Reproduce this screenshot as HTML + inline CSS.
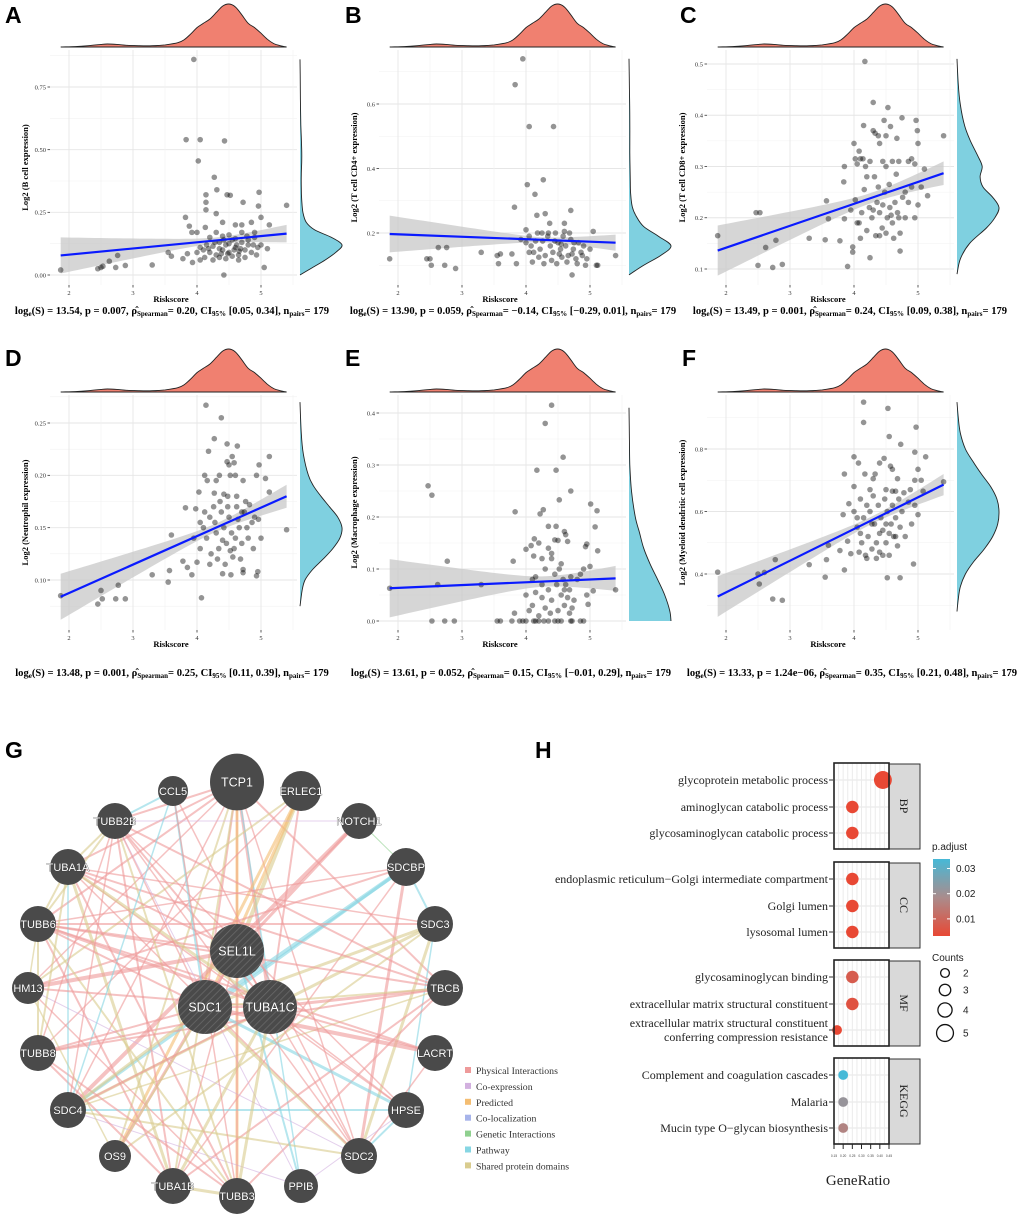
<!DOCTYPE html>
<html><head><meta charset="utf-8">
<style>
html,body{margin:0;padding:0;background:#fff;}
#wrap{position:relative;width:1020px;height:1219px;overflow:hidden;font-family:"Liberation Sans",sans-serif;}
.stat{position:absolute;font-family:"Liberation Serif",serif;font-weight:bold;font-size:10.6px;white-space:nowrap;transform:translateX(-50%);color:#000;}
.stat sub{font-size:7px;vertical-align:-2px;}
.letter{position:absolute;font-family:"Liberation Sans",sans-serif;font-weight:bold;font-size:23px;}
</style></head>
<body>
<div id="wrap">
<svg id="svg" width="1020" height="1219" xmlns="http://www.w3.org/2000/svg">
<defs>
<pattern id="hatch" patternUnits="userSpaceOnUse" width="5" height="5" patternTransform="rotate(45)">
<rect width="5" height="5" fill="#4a4a4a"/><line x1="0" y1="0" x2="0" y2="5" stroke="#6a6a6a" stroke-width="1.5"/>
</pattern>
</defs>
</svg>
<div class="letter" style="left:5px;top:2px">A</div>
<div class="letter" style="left:345px;top:2px">B</div>
<div class="letter" style="left:680px;top:2px">C</div>
<div class="letter" style="left:5px;top:345px">D</div>
<div class="letter" style="left:345px;top:345px">E</div>
<div class="letter" style="left:682px;top:345px">F</div>
<div class="letter" style="left:5px;top:737px">G</div>
<div class="letter" style="left:535px;top:737px">H</div>

<div class="stat" style="left:172px;top:306px">log<sub>e</sub>(S) = 13.54, p = 0.007, ρ̂<sub>Spearman</sub>= 0.20, CI<sub>95%</sub> [0.05, 0.34], n<sub>pairs</sub>= 179</div>
<div class="stat" style="left:513px;top:306px">log<sub>e</sub>(S) = 13.90, p = 0.059, ρ̂<sub>Spearman</sub>= −0.14, CI<sub>95%</sub> [−0.29, 0.01], n<sub>pairs</sub>= 179</div>
<div class="stat" style="left:850px;top:306px">log<sub>e</sub>(S) = 13.49, p = 0.001, ρ̂<sub>Spearman</sub>= 0.24, CI<sub>95%</sub> [0.09, 0.38], n<sub>pairs</sub>= 179</div>
<div class="stat" style="left:172px;top:668px">log<sub>e</sub>(S) = 13.48, p = 0.001, ρ̂<sub>Spearman</sub>= 0.25, CI<sub>95%</sub> [0.11, 0.39], n<sub>pairs</sub>= 179</div>
<div class="stat" style="left:511px;top:668px">log<sub>e</sub>(S) = 13.61, p = 0.052, ρ̂<sub>Spearman</sub>= 0.15, CI<sub>95%</sub> [−0.01, 0.29], n<sub>pairs</sub>= 179</div>
<div class="stat" style="left:852px;top:668px">log<sub>e</sub>(S) = 13.33, p = 1.24e−06, ρ̂<sub>Spearman</sub>= 0.35, CI<sub>95%</sub> [0.21, 0.48], n<sub>pairs</sub>= 179</div>
</div>
<script>
// ---------- shared riskscore density ----------
const densX=[1.87,2.1,2.3,2.5,2.6,2.75,2.9,3.1,3.3,3.5,3.7,3.8,3.9,4.0,4.1,4.2,4.3,4.4,4.5,4.6,4.7,4.8,4.9,5.0,5.1,5.2,5.3,5.4];
const densVal=[0,0.01,0.03,0.06,0.07,0.06,0.04,0.03,0.03,0.05,0.1,0.17,0.3,0.45,0.55,0.65,0.8,0.95,1.0,0.93,0.75,0.55,0.45,0.32,0.18,0.08,0.03,0];
// ---------- panel A ----------
const ptsA=[[3.95,0.86],[3.83,0.54],[4.05,0.54],[4.43,0.535],[4.02,0.455],[4.27,0.39],[4.31,0.34],[4.47,0.32],[4.52,0.318],[4.97,0.33],[4.72,0.29],[4.14,0.32],[4.14,0.29],[4.14,0.26],[4.3,0.245],[3.82,0.23],[4.96,0.275],[5.4,0.278],[5.0,0.23],[4.4,0.21],[1.87,0.02],[2.45,0.025],[2.5,0.03],[2.53,0.035],[2.63,0.055],[2.73,0.03],[2.76,0.078],[2.88,0.038],[3.3,0.04],[3.55,0.09],[3.6,0.075],[3.78,0.065],[3.85,0.085],[3.93,0.05],[3.88,0.195],[3.92,0.17],[4.0,0.17],[4.13,0.19],[4.05,0.06],[4.42,0.0],[4.6,0.2],[4.7,0.2],[4.85,0.21],[5.13,0.2],[4.9,0.17],[5.05,0.03],[5.1,0.105],[4.93,0.08],[4.1,0.1],[4.15,0.12],[4.2,0.09],[4.25,0.115],[4.3,0.08],[4.35,0.13],[4.4,0.1],[4.45,0.12],[4.5,0.09],[4.55,0.14],[4.6,0.11],[4.65,0.08],[4.7,0.13],[4.75,0.1],[4.8,0.12],[4.85,0.09],[4.9,0.15],[4.95,0.11],[4.2,0.15],[4.3,0.17],[4.4,0.155],[4.5,0.16],[4.6,0.145],[4.7,0.17],[4.8,0.14],[4.0,0.09],[4.05,0.11],[4.12,0.07],[4.25,0.06],[4.35,0.07],[4.45,0.065],[4.55,0.075],[4.65,0.06],[4.75,0.07],[4.35,0.105],[4.5,0.125],[4.62,0.12],[4.28,0.13],[4.42,0.14],[4.58,0.1],[4.68,0.105],[4.78,0.155],[4.88,0.12],[5.0,0.12],[4.18,0.105],[4.48,0.085],[4.38,0.085],[4.66,0.095]];
const fitA=[0.078,0.165]; const ciA=[0.072,0.012,0.035];
const rdYA=[0,0.03,0.06,0.09,0.12,0.15,0.18,0.21,0.25,0.3,0.35,0.4,0.45,0.5,0.55,0.6,0.7,0.8,0.86];
const rdVA=[0,0.3,0.6,0.85,1.0,0.75,0.35,0.15,0.07,0.04,0.03,0.03,0.04,0.04,0.03,0.02,0.01,0.005,0];
const tickA=[0,0.25,0.5,0.75]; const tickLabA=['0.00','0.25','0.50','0.75'];
// ---------- panel B ----------
const ptsB=[[3.95,0.74],[3.83,0.66],[4.05,0.53],[4.43,0.53],[4.27,0.365],[4.02,0.35],[4.14,0.32],[3.82,0.28],[4.7,0.27],[4.17,0.255],[4.3,0.26],[4.37,0.23],[4.6,0.23],[4.75,0.17],[5.05,0.205],[1.87,0.12],[2.45,0.12],[2.5,0.12],[2.52,0.1],[2.63,0.155],[2.73,0.1],[2.76,0.155],[2.9,0.09],[3.3,0.14],[3.55,0.13],[3.57,0.105],[3.6,0.135],[3.78,0.135],[3.85,0.105],[4.0,0.21],[4.05,0.19],[4.72,0.07],[5.4,0.13],[5.1,0.1],[5.12,0.1],[4.93,0.1],[5.0,0.15],[3.92,0.18],[4.0,0.17],[4.08,0.16],[4.12,0.14],[4.18,0.2],[4.22,0.15],[4.26,0.175],[4.3,0.13],[4.34,0.19],[4.38,0.16],[4.42,0.14],[4.46,0.2],[4.5,0.17],[4.54,0.15],[4.58,0.19],[4.62,0.16],[4.66,0.13],[4.7,0.18],[4.74,0.15],[4.78,0.12],[4.82,0.17],[4.86,0.14],[4.9,0.16],[4.95,0.12],[4.1,0.11],[4.2,0.125],[4.28,0.105],[4.4,0.115],[4.48,0.105],[4.56,0.125],[4.64,0.11],[4.72,0.135],[4.8,0.105],[4.15,0.175],[4.35,0.2],[4.45,0.175],[4.6,0.205],[4.68,0.2],[4.25,0.2],[4.55,0.165],[4.05,0.14],[4.88,0.13],[4.52,0.135]];
const fitB=[0.197,0.170]; const ciB=[0.057,0.008,0.025];
const rdYB=[0.07,0.1,0.13,0.16,0.19,0.22,0.25,0.28,0.32,0.36,0.45,0.55,0.65,0.74];
const rdVB=[0,0.35,0.75,1.0,0.7,0.35,0.18,0.08,0.04,0.03,0.02,0.02,0.01,0];
const tickB=[0.2,0.4,0.6]; const tickLabB=['0.2','0.4','0.6'];
// ---------- panel C ----------
const ptsC=[[4.17,0.505],[4.3,0.425],[4.53,0.415],[4.75,0.395],[4.97,0.39],[4.47,0.39],[4.15,0.38],[4.57,0.378],[4.3,0.37],[4.33,0.365],[4.38,0.36],[4.5,0.36],[5.4,0.36],[4.99,0.37],[4.67,0.355],[4.4,0.345],[4.0,0.345],[5.0,0.345],[4.08,0.33],[4.02,0.315],[4.1,0.315],[4.14,0.315],[4.25,0.31],[4.45,0.31],[4.5,0.3],[4.6,0.31],[4.7,0.31],[4.85,0.31],[4.9,0.315],[3.85,0.3],[3.84,0.27],[4.05,0.305],[4.18,0.3],[4.95,0.305],[5.1,0.295],[1.87,0.165],[2.47,0.21],[2.53,0.21],[2.5,0.107],[2.62,0.142],[2.73,0.103],[2.78,0.156],[2.88,0.109],[3.3,0.16],[3.55,0.157],[3.6,0.198],[3.57,0.233],[3.78,0.155],[3.85,0.198],[3.9,0.105],[3.98,0.143],[3.98,0.133],[4.25,0.122],[4.72,0.135],[5.15,0.243],[4.02,0.235],[4.08,0.19],[4.12,0.21],[4.16,0.255],[4.2,0.175],[4.24,0.22],[4.28,0.2],[4.32,0.28],[4.36,0.23],[4.4,0.21],[4.44,0.18],[4.48,0.25],[4.52,0.2],[4.56,0.22],[4.6,0.19],[4.64,0.23],[4.68,0.21],[4.72,0.17],[4.76,0.24],[4.8,0.2],[4.85,0.23],[4.9,0.26],[4.95,0.2],[5.0,0.225],[4.2,0.28],[4.38,0.26],[4.55,0.265],[4.66,0.285],[4.1,0.16],[4.34,0.165],[4.5,0.17],[4.62,0.16],[4.45,0.225],[4.58,0.205],[4.3,0.215],[3.95,0.215],[4.05,0.19],[4.4,0.165],[4.7,0.2],[5.05,0.26],[4.8,0.25]];
const fitC=[0.136,0.287]; const ciC=[0.049,0.01,0.023];
const rdYC=[0.09,0.12,0.15,0.18,0.2,0.22,0.24,0.26,0.28,0.3,0.32,0.35,0.38,0.42,0.46,0.51];
const rdVC=[0,0.08,0.3,0.7,0.9,1.0,0.85,0.62,0.55,0.6,0.5,0.32,0.18,0.08,0.03,0];
const tickC=[0.1,0.2,0.3,0.4,0.5]; const tickLabC=['0.1','0.2','0.3','0.4','0.5'];
// ---------- panel D ----------
const ptsD=[[4.14,0.267],[4.38,0.255],[4.27,0.235],[4.47,0.23],[4.63,0.228],[4.18,0.223],[4.55,0.218],[5.13,0.218],[4.47,0.213],[4.5,0.21],[4.58,0.212],[4.97,0.21],[4.12,0.2],[4.35,0.2],[4.52,0.2],[4.6,0.2],[4.93,0.2],[4.16,0.195],[4.3,0.195],[4.72,0.195],[5.07,0.197],[4.03,0.184],[4.27,0.183],[4.42,0.182],[4.48,0.18],[4.62,0.18],[5.13,0.184],[1.87,0.085],[2.45,0.077],[2.5,0.09],[2.52,0.082],[2.73,0.082],[2.77,0.095],[2.88,0.082],[3.3,0.105],[3.55,0.098],[3.57,0.109],[3.6,0.143],[3.78,0.118],[3.82,0.169],[3.85,0.112],[3.92,0.105],[3.95,0.14],[3.98,0.168],[4.0,0.117],[4.07,0.083],[4.05,0.155],[4.4,0.106],[4.53,0.105],[4.72,0.107],[4.72,0.11],[4.93,0.104],[4.95,0.108],[5.4,0.148],[4.88,0.13],[5.0,0.14],[4.05,0.13],[4.1,0.15],[4.15,0.14],[4.2,0.16],[4.22,0.125],[4.26,0.17],[4.3,0.145],[4.34,0.13],[4.38,0.165],[4.42,0.15],[4.46,0.135],[4.5,0.16],[4.54,0.145],[4.58,0.13],[4.62,0.17],[4.66,0.15],[4.7,0.135],[4.74,0.165],[4.78,0.15],[4.82,0.172],[4.86,0.155],[4.9,0.16],[4.96,0.158],[4.2,0.115],[4.32,0.12],[4.44,0.115],[4.56,0.122],[4.68,0.12],[4.28,0.155],[4.36,0.175],[4.48,0.17],[4.6,0.14],[4.7,0.165],[4.12,0.165],[4.4,0.138],[4.52,0.128],[4.64,0.158],[4.8,0.14],[4.76,0.175]];
const fitD=[0.084,0.180]; const ciD=[0.022,0.004,0.011];
const rdYD=[0.075,0.09,0.1,0.11,0.12,0.13,0.14,0.15,0.16,0.17,0.18,0.19,0.2,0.22,0.24,0.27];
const rdVD=[0,0.05,0.12,0.3,0.55,0.78,0.95,1.0,0.9,0.7,0.5,0.32,0.2,0.08,0.03,0];
const tickD=[0.10,0.15,0.20,0.25]; const tickLabD=['0.10','0.15','0.20','0.25'];
// ---------- panel E ----------
const ptsE=[[4.4,0.415],[4.3,0.38],[4.58,0.315],[4.17,0.29],[4.47,0.29],[4.7,0.25],[4.52,0.233],[2.47,0.26],[2.53,0.242],[5.01,0.225],[4.27,0.214],[5.11,0.212],[3.83,0.21],[4.22,0.206],[4.35,0.182],[4.47,0.182],[5.08,0.181],[4.6,0.172],[4.62,0.166],[4.5,0.155],[4.45,0.156],[4.2,0.15],[4.13,0.158],[4.08,0.145],[4.0,0.138],[4.65,0.153],[4.95,0.148],[5.12,0.135],[4.93,0.143],[2.77,0.115],[3.8,0.115],[1.87,0.063],[2.62,0.07],[3.3,0.07],[5.4,0.06],[5.05,0.058],[2.53,0],[2.73,0],[2.88,0],[3.55,0],[3.6,0],[3.78,0],[3.9,0],[3.95,0],[4.0,0],[4.12,0],[4.15,0],[4.2,0],[4.28,0],[4.35,0],[4.45,0],[4.5,0],[4.55,0],[4.7,0],[4.72,0],[4.85,0],[4.9,0],[3.82,0.015],[4.0,0.05],[4.05,0.02],[4.1,0.03],[4.1,0.08],[4.15,0.055],[4.2,0.01],[4.25,0.07],[4.25,0.045],[4.3,0.1],[4.3,0.025],[4.35,0.06],[4.38,0.015],[4.4,0.12],[4.4,0.04],[4.45,0.09],[4.48,0.07],[4.5,0.02],[4.52,0.1],[4.55,0.05],[4.58,0.08],[4.6,0.03],[4.62,0.07],[4.65,0.045],[4.68,0.06],[4.7,0.085],[4.72,0.025],[4.75,0.04],[4.8,0.08],[4.85,0.09],[4.9,0.1],[4.95,0.05],[4.97,0.032],[5.0,0.105],[4.55,0.11],[4.35,0.14],[4.25,0.12],[4.15,0.085],[4.4,0.13],[4.6,0.06],[4.68,0.015],[4.12,0.125]];
const fitE=[0.063,0.082]; const ciE=[0.056,0.01,0.024];
const rdYE=[0,0.02,0.05,0.08,0.11,0.14,0.17,0.2,0.25,0.3,0.35,0.41];
const rdVE=[1.0,0.97,0.85,0.68,0.5,0.35,0.25,0.15,0.06,0.02,0.01,0];
const tickE=[0,0.1,0.2,0.3,0.4]; const tickLabE=['0.0','0.1','0.2','0.3','0.4'];
// ---------- panel F ----------
const ptsF=[[4.15,0.95],[4.53,0.93],[4.15,0.885],[4.97,0.87],[4.55,0.84],[4.73,0.815],[4.95,0.79],[4.0,0.775],[5.12,0.775],[4.4,0.755],[4.47,0.77],[4.07,0.755],[4.57,0.745],[4.6,0.735],[5.0,0.735],[3.85,0.72],[4.17,0.72],[4.33,0.72],[4.3,0.705],[4.68,0.705],[4.95,0.7],[5.05,0.7],[5.4,0.695],[4.0,0.68],[4.5,0.67],[4.6,0.665],[4.65,0.665],[5.08,0.665],[1.87,0.406],[2.5,0.4],[2.6,0.405],[2.52,0.368],[2.77,0.446],[2.73,0.32],[2.88,0.316],[3.3,0.43],[3.55,0.39],[3.57,0.446],[3.6,0.492],[3.78,0.475],[3.85,0.413],[3.9,0.505],[3.95,0.465],[4.52,0.388],[4.72,0.388],[4.93,0.432],[3.83,0.59],[3.92,0.625],[4.0,0.6],[4.05,0.55],[4.1,0.64],[4.12,0.5],[4.15,0.58],[4.18,0.46],[4.2,0.62],[4.22,0.52],[4.25,0.6],[4.28,0.48],[4.3,0.65],[4.32,0.56],[4.35,0.5],[4.38,0.62],[4.4,0.47],[4.42,0.58],[4.45,0.54],[4.48,0.64],[4.5,0.5],[4.52,0.6],[4.55,0.46],[4.58,0.56],[4.6,0.62],[4.62,0.52],[4.65,0.58],[4.68,0.49],[4.7,0.64],[4.72,0.55],[4.75,0.6],[4.8,0.52],[4.85,0.63],[4.9,0.56],[4.95,0.62],[5.0,0.59],[4.08,0.47],[4.2,0.45],[4.35,0.45],[4.45,0.46],[4.55,0.53],[4.65,0.52],[4.28,0.56],[4.4,0.53],[4.5,0.56],[4.1,0.53],[4.78,0.66],[4.88,0.67],[4.25,0.67],[4.05,0.58]];
const fitF=[0.328,0.686]; const ciF=[0.065,0.012,0.034];
const rdYF=[0.28,0.32,0.36,0.4,0.44,0.48,0.52,0.56,0.6,0.64,0.68,0.72,0.76,0.8,0.85,0.9,0.95];
const rdVF=[0,0.03,0.08,0.2,0.4,0.65,0.85,0.97,1.0,0.95,0.8,0.58,0.38,0.2,0.08,0.03,0];
const tickF=[0.4,0.6,0.8]; const tickLabF=['0.4','0.6','0.8'];

const xTicks=[2,3,4,5];
const xTickLab=['2','3','4','5'];

const NS='http://www.w3.org/2000/svg';
const svg=document.getElementById('svg');
function mk(tag,attrs,parent){const e=document.createElementNS(NS,tag);for(const k in attrs)e.setAttribute(k,attrs[k]);(parent||svg).appendChild(e);return e;}

function smoothPath(pts){
  let d='M'+pts[0][0].toFixed(1)+','+pts[0][1].toFixed(1);
  for(let i=0;i<pts.length-1;i++){
    const p0=pts[i-1]||pts[i],p1=pts[i],p2=pts[i+1],p3=pts[i+2]||p2;
    const c1=[p1[0]+(p2[0]-p0[0])/6,p1[1]+(p2[1]-p0[1])/6];
    const c2=[p2[0]-(p3[0]-p1[0])/6,p2[1]-(p3[1]-p1[1])/6];
    d+='C'+c1[0].toFixed(1)+','+c1[1].toFixed(1)+' '+c2[0].toFixed(1)+','+c2[1].toFixed(1)+' '+p2[0].toFixed(1)+','+p2[1].toFixed(1);
  }
  return d;
}

const panels=[
 {id:'a',ox:0,oy:0,cx:69,v1:0,p1:275,v2:0.75,p2:87,pts:ptsA,fit:fitA,ci:ciA,ry:rdYA,rv:rdVA,ticks:tickA,tl:tickLabA,ylab:'Log2 (B cell expression)'},
 {id:'b',ox:340,oy:0,cx:58,v1:0.2,p1:233,v2:0.6,p2:104,pts:ptsB,fit:fitB,ci:ciB,ry:rdYB,rv:rdVB,ticks:tickB,tl:tickLabB,ylab:'Log2 (T cell CD4+ expression)'},
 {id:'c',ox:680,oy:0,cx:46,v1:0.1,p1:269,v2:0.5,p2:64,pts:ptsC,fit:fitC,ci:ciC,ry:rdYC,rv:rdVC,ticks:tickC,tl:tickLabC,ylab:'Log2 (T cell CD8+ expression)'},
 {id:'d',ox:0,oy:345,cx:69,v1:0.1,p1:235,v2:0.25,p2:78,pts:ptsD,fit:fitD,ci:ciD,ry:rdYD,rv:rdVD,ticks:tickD,tl:tickLabD,ylab:'Log2 (Neutrophil expression)'},
 {id:'e',ox:340,oy:345,cx:58,v1:0,p1:276,v2:0.4,p2:68,pts:ptsE,fit:fitE,ci:ciE,ry:rdYE,rv:rdVE,ticks:tickE,tl:tickLabE,ylab:'Log2 (Macrophage expression)'},
 {id:'f',ox:680,oy:345,cx:46,v1:0.4,p1:229,v2:0.8,p2:104,pts:ptsF,fit:fitF,ci:ciF,ry:rdYF,rv:rdVF,ticks:tickF,tl:tickLabF,ylab:'Log2 (Myeloid dendritic cell expression)'}
];

panels.forEach(P=>{
  const g=mk('g',{transform:`translate(${P.ox},${P.oy})`});
  
  
  const X=v=>P.cx+(v-2)*64;
  const Y=v=>P.p1+(v-P.v1)*(P.p2-P.p1)/(P.v2-P.v1);
  const L=P.cx-19,R=P.cx+228,T=50,B=285;
  // grid
  const step=P.ticks[1]-P.ticks[0];
  for(let v=P.ticks[0]-step*1.5;v<=P.ticks[P.ticks.length-1]+step*1.6;v+=step/2){
    const y=Y(v); if(y<T||y>B)continue;
    const major=P.ticks.some(t=>Math.abs(t-v)<1e-9);
    const ln=mk('line',{x1:L,x2:R,y1:y,y2:y,stroke:major?'#e6e6e6':'#f2f2f2','stroke-width':major?0.9:0.6},g);
    
    
  }
  for(let v=1.5;v<=5.6;v+=0.5){
    const x=X(v); if(x<L||x>R)continue;
    const major=Math.abs(v-Math.round(v))<1e-9;
    const ln=mk('line',{x1:x,x2:x,y1:T,y2:B,stroke:major?'#e6e6e6':'#f2f2f2','stroke-width':major?0.9:0.6},g);
    
    
  }
  // CI band
  const xm=4.3,x0=1.87,x1=5.4;
  const fitY=x=>P.fit[0]+(x-x0)*(P.fit[1]-P.fit[0])/(x1-x0);
  const ciHalf=x=>{const w=x<xm?P.ci[0]:P.ci[2];const d=x<xm?(x0-xm):(x1-xm);const a=P.ci[1]*P.ci[1];const b=(w*w-a)/(d*d);return Math.sqrt(a+b*(x-xm)*(x-xm));};
  let up=[],lo=[];
  for(let i=0;i<=40;i++){const x=x0+(x1-x0)*i/40;up.push([X(x),Y(fitY(x)+ciHalf(x))]);lo.push([X(x),Y(fitY(x)-ciHalf(x))]);}
  const band=mk('path',{d:'M'+up.map(p=>p.join(',')).join('L')+'L'+lo.reverse().map(p=>p.join(',')).join('L')+'Z',fill:'#c8c8c8','fill-opacity':0.75},g);
  
  
  // points
  P.pts.forEach(p=>{
    const c=mk('circle',{cx:X(p[0]),cy:Y(p[1]),r:2.8,fill:'#000','fill-opacity':0.42},g);
    
    
  });
  // fit line
  const fl=mk('line',{x1:X(x0),y1:Y(P.fit[0]),x2:X(x1),y2:Y(P.fit[1]),stroke:'#0a1aff','stroke-width':2.2},g);
  
  
  // y ticks
  P.ticks.forEach((t,i)=>{
    mk('line',{x1:L-2.5,x2:L,y1:Y(t),y2:Y(t),stroke:'#333','stroke-width':0.8},g);
    const tx=mk('text',{x:L-4,y:Y(t)+2.3,'text-anchor':'end','font-family':'Liberation Serif,serif','font-size':6.5,fill:'#333'},g);
    tx.textContent=P.tl[i];
    
    
  });
  xTicks.forEach((t,i)=>{
    mk('line',{x1:X(t),x2:X(t),y1:B,y2:B+2.5,stroke:'#333','stroke-width':0.8},g);
    const tx=mk('text',{x:X(t),y:B+10,'text-anchor':'middle','font-family':'Liberation Serif,serif','font-size':6.5,fill:'#333'},g);
    tx.textContent=xTickLab[i];
    
    
  });
  const xl=mk('text',{x:P.cx+102,y:302,'text-anchor':'middle','font-family':'Liberation Serif,serif','font-size':8.5,'font-weight':'bold'},g);
  xl.textContent='Riskscore';
  
  
  const yl=mk('text',{transform:`translate(${P.cx-41},${(T+B)/2}) rotate(-90)`,'text-anchor':'middle','font-family':'Liberation Serif,serif','font-size':8.5,'font-weight':'bold'},g);
  yl.textContent=P.ylab;
  
  
  // top density
  const tp=densX.map((x,i)=>[X(x),47-43*densVal[i]]);
  const td=mk('path',{d:smoothPath(tp)+'Z',fill:'#f08070',stroke:'#222','stroke-width':0.9},g);
  
  
  // right density
  const base=P.cx+231;
  const rp=P.ry.map((y,i)=>[base+42*P.rv[i],Y(y)]);
  let d=smoothPath(rp);
  if(P.rv[0]>0) d='M'+base+','+Y(P.ry[0]).toFixed(1)+'L'+d.slice(1);
  const rd=mk('path',{d:d+'L'+base+','+Y(P.ry[P.ry.length-1]).toFixed(1)+'Z',fill:'#7fd0e0',stroke:'none'},g);
  
  
  const ro=mk('path',{d:smoothPath(rp),fill:'none',stroke:'#222','stroke-width':0.9},g);
  
  
});

// ---------- Panel G network ----------
const nodeNames=['TCP1','CCL5','ERLEC1','TUBB2B','NOTCH1','TUBA1A','SDCBP','TUBB6','SDC3','SEL1L','HM13','TBCB','SDC1','TUBA1C','TUBB8','LACRT','SDC4','HPSE','OS9','SDC2','TUBA1B','TUBB3','PPIB'];
const nodeX=[237,173,301,115,359,68,406,38,435,237,28,445,205,270,38,435,68,406,115,359,173,237,301];
const nodeY=[782,791,791,821,821,867,867,924,924,951,988,988,1007,1007,1053,1053,1110,1110,1156,1156,1186,1196,1186];
const nodeR=[27,15,20,18,18,18,19,18,18,27,16,18,27,27,18,18,18,18,16,18,18,18,17];
const edgeColors={P:'#ee9a9a',C:'#d2b0df',R:'#f4bd72',L:'#a7b4ea',G:'#8fd08f',W:'#86d6e3',S:'#d9cc8e'};
const edges=['TCP1-SEL1L-P-2','TCP1-SDC1-P-2','TCP1-TUBA1C-P-3','TCP1-TUBB3-R-3','TCP1-TUBA1B-S-2','TCP1-TUBB6-P-2','TCP1-TUBA1A-P-2','TCP1-TUBB2B-P-2','TCP1-SDC4-P-1.5','TCP1-HM13-P-1.5','TCP1-SDC2-P-1.5','TCP1-TBCB-P-2','TCP1-OS9-S-2','TCP1-PPIB-W-1.5','ERLEC1-SEL1L-S-4','ERLEC1-OS9-R-3','ERLEC1-TUBA1C-P-2','ERLEC1-HM13-S-2','ERLEC1-TUBB8-P-1.5','ERLEC1-SDC1-R-3','NOTCH1-SDC4-P-4','NOTCH1-SEL1L-P-3','NOTCH1-SDCBP-G-1','NOTCH1-TUBB2B-C-1','SDCBP-SDC1-W-4','SDCBP-SDC4-W-3','SDCBP-SDC2-P-3','SDCBP-SDC3-W-2','SDCBP-TUBA1B-P-1.5','SDCBP-TUBB6-P-1.5','SDCBP-HM13-P-2','SDC3-SDC1-S-3','SDC3-SDC4-S-3','SDC3-SDC2-S-3','SDC3-TUBB6-P-2','SDC3-TUBA1A-P-1.5','SDC3-HPSE-W-1.5','SDC3-OS9-S-2','TBCB-TUBA1C-P-3','TBCB-TUBA1A-P-2','TBCB-TUBB6-P-2','TBCB-TUBB8-P-2','TBCB-TUBA1B-P-2','TBCB-TUBB3-P-2','TBCB-TUBB2B-P-2','TBCB-SDC4-S-1.5','LACRT-SDC1-P-4','LACRT-TUBB6-P-2','LACRT-SDC2-P-1.5','HPSE-SDC1-W-3','HPSE-SDC2-W-2','HPSE-SDC4-W-2','HPSE-TUBA1A-P-1.5','HPSE-TUBB2B-P-1.5','SDC2-SDC1-S-3','SDC2-SDC4-S-2','SDC2-TUBA1A-P-1.5','SDC2-TUBB2B-P-1.5','SDC2-HM13-C-1','PPIB-SEL1L-W-2','PPIB-TUBB2B-C-1','PPIB-SDC4-C-1','PPIB-HPSE-C-1','TUBB3-TUBA1A-P-2','TUBB3-TUBA1B-S-3','TUBB3-TUBB6-S-2','TUBB3-TUBB2B-S-2','TUBB3-TUBB8-P-2','TUBB3-TUBA1C-S-3','TUBB3-HM13-P-1.5','TUBA1B-TUBA1A-S-3','TUBA1B-TUBB2B-P-2','TUBA1B-TUBB6-P-2','TUBA1B-TUBA1C-S-3','TUBA1B-TUBB8-P-2','TUBA1B-SEL1L-P-1.5','OS9-SEL1L-P-3','OS9-SDC1-S-2','OS9-HM13-S-1.5','SDC4-SDC1-S-3','SDC4-TUBA1C-P-2','SDC4-TUBB2B-P-1.5','SDC4-TUBA1A-W-1.5','TUBB8-TUBA1A-S-2','TUBB8-TUBA1C-P-2','TUBB8-TUBB2B-P-1.5','TUBB8-TUBB6-S-2','HM13-SEL1L-P-4','HM13-TUBA1C-P-2','HM13-TUBB6-S-1.5','TUBB6-TUBA1A-S-2','TUBB6-TUBA1C-P-3','TUBB6-TUBB2B-S-2','TUBB6-SEL1L-P-2','TUBA1A-TUBA1C-S-3','TUBA1A-TUBB2B-S-2','TUBA1A-SEL1L-P-2','TUBB2B-TUBA1C-P-2','TUBB2B-CCL5-W-2','TUBB2B-SDC1-P-1.5','CCL5-SDC1-W-2','CCL5-SDC4-W-1.5','CCL5-TUBB3-P-1.5','CCL5-SDC2-P-1.5','SEL1L-SDC1-P-2','SEL1L-TUBA1C-P-2','SDC1-TUBA1C-P-2','TUBB8-SDC1-P-2','TUBB6-SDC1-P-2','TBCB-SDC1-S-2','LACRT-TUBA1C-P-2','HPSE-TUBA1C-P-1.5','SDC2-SEL1L-P-1.5','TUBB3-SEL1L-P-1.5'];
const legendLabels=['Physical Interactions','Co-expression','Predicted','Co-localization','Genetic Interactions','Pathway','Shared protein domains'];
const legendKeys=['P','C','R','L','G','W','S'];

const gG=mk('g',{});


edges.forEach(e=>{
  const [a,b,t,w]=e.split('-');
  const i=nodeNames.indexOf(a),j=nodeNames.indexOf(b);
  const ln=mk('line',{x1:nodeX[i],y1:nodeY[i],x2:nodeX[j],y2:nodeY[j],stroke:edgeColors[t],'stroke-width':w,'stroke-opacity':0.6},gG);
  
  
});
nodeNames.forEach((n,i)=>{
  const big=nodeR[i]>=26&&n!=='TCP1';
  const c=mk('ellipse',{cx:nodeX[i],cy:nodeY[i],rx:nodeR[i],ry:nodeR[i]*(n==='TCP1'?1.05:1.0),fill:big?'url(#hatch)':'#4a4a4a'},gG);
  
  
  const tx=mk('text',{x:nodeX[i],y:nodeY[i]+(nodeR[i]>=26?4.5:4),'text-anchor':'middle','font-family':'Liberation Sans,sans-serif','font-size':nodeR[i]>=26?12.5:11,fill:'#fff',stroke:'#333','stroke-width':0.6,'paint-order':'stroke'},gG);
  tx.textContent=n;
  
  
});
legendLabels.forEach((l,i)=>{
  const y=1071+i*15.9;
  const r=mk('rect',{x:465,y:y-4,width:6,height:6,fill:edgeColors[legendKeys[i]]},gG);
  
  
  const t=mk('text',{x:476,y:y+3,'font-family':'Liberation Serif,serif','font-size':9.8,fill:'#333'},gG);
  t.textContent=l;
  
  
});

// ---------- Panel H enrichment dot plot ----------
const terms=['glycoprotein metabolic process','aminoglycan catabolic process','glycosaminoglycan catabolic process','endoplasmic reticulum−Golgi intermediate compartment','Golgi lumen','lysosomal lumen','glycosaminoglycan binding','extracellular matrix structural constituent','extracellular matrix structural constituent|conferring compression resistance','Complement and coagulation cascades','Malaria','Mucin type O−glycan biosynthesis'];
const termGroup=[0,0,0,1,1,1,2,2,2,3,3,3];
const geneRatio=[0.4167,0.25,0.25,0.25,0.25,0.25,0.25,0.25,0.1667,0.2,0.2,0.2];
const counts=[5,3,3,3,3,3,3,3,2,2,2,2];
const padj=[0.004,0.004,0.004,0.004,0.004,0.004,0.008,0.006,0.004,0.031,0.02,0.016];
const groups=['BP','CC','MF','KEGG'];
const grTicks=[0.15,0.20,0.25,0.30,0.35,0.40,0.45];
const grTickLab=['0.15','0.20','0.25','0.30','0.35','0.40','0.45'];
const padjTicks=[0.01,0.02,0.03];
const countLegend=[2,3,4,5];

const gH=mk('g',{});


const GX=v=>834+(v-0.15)*(889-834)/0.3;
const rad=c=>2.2+c*1.35;
function col(p){ // red -> grey -> blue
  const t=Math.max(0,Math.min(1,(p-0.004)/(0.031-0.004)));
  const a=[232,72,52],m=[170,140,140],b=[70,185,215];
  const mix=(u,v,s)=>u.map((x,k)=>Math.round(x+(v[k]-x)*s));
  const c=t<0.5?mix(a,m,t*2):mix(m,b,(t-0.5)*2);
  return `rgb(${c.join(',')})`;
}
const facetTop=[763,862,960,1058],facetH=86;
const rowOff=[17,44,70];
groups.forEach((gname,gi)=>{
  const top=facetTop[gi];
  const bg=mk('rect',{x:834,y:top,width:55,height:facetH,fill:'#fff'},gH);
  
  
  for(let v=0.15;v<=0.451;v+=0.025){
    const l=mk('line',{x1:GX(v),x2:GX(v),y1:top,y2:top+facetH,stroke:'#ebebeb','stroke-width':1},gH);
    
    
  }
  rowOff.forEach(o=>{
    const l=mk('line',{x1:834,x2:889,y1:top+o,y2:top+o,stroke:'#ebebeb','stroke-width':1.2},gH);
    
    
  });
  const strip=mk('rect',{x:889,y:top+1,width:31,height:facetH-1,fill:'#d9d9d9',stroke:'#333','stroke-width':1},gH);
  
  
  const st=mk('text',{transform:`translate(${900},${top+facetH/2}) rotate(90)`,'text-anchor':'middle','font-family':'Liberation Serif,serif','font-size':12,fill:'#222'},gH);
  st.textContent=gname;
  
  
});
terms.forEach((t,i)=>{
  const gi=termGroup[i],k=i%3;
  const y=facetTop[gi]+rowOff[k];
  const c=mk('circle',{cx:GX(geneRatio[i]),cy:y,r:rad(counts[i]),fill:col(padj[i])},gH);
  
  
  mk('line',{x1:829,x2:833,y1:y,y2:y,stroke:'#333','stroke-width':1},gH);
  const parts=t.split('|');
  parts.forEach((p,pi)=>{
    const tx=mk('text',{x:828,y:y+4+(parts.length>1?(pi-0.5)*14:0),'text-anchor':'end','font-family':'Liberation Serif,serif','font-size':12,fill:'#222'},gH);
    tx.textContent=p;
    
    
  });
});
groups.forEach((g,gi)=>{
  const b=mk('rect',{x:834,y:facetTop[gi],width:55,height:facetH,fill:'none',stroke:'#222','stroke-width':1.6},gH);
  
  
});
grTicks.forEach((t,i)=>{
  mk('line',{x1:GX(t),x2:GX(t),y1:1144,y2:1149,stroke:'#222','stroke-width':1},gH);
  const tx=mk('text',{x:GX(t),y:1157,'text-anchor':'middle','font-family':'Liberation Sans,sans-serif','font-size':3.2,fill:'#444'},gH);
  tx.textContent=grTickLab[i];
  
  
});
const gr=mk('text',{x:858,y:1185,'text-anchor':'middle','font-family':'Liberation Serif,serif','font-size':15,fill:'#222'},gH);
gr.textContent='GeneRatio';


// colorbar
const lg=mk('linearGradient',{id:'cbar',x1:0,y1:0,x2:0,y2:1},svg.querySelector('defs'));
[[0,'rgb(70,185,215)'],[0.5,'rgb(170,140,140)'],[1,'rgb(232,72,52)']].forEach(s=>mk('stop',{offset:s[0],'stop-color':s[1]},lg));
const pt=mk('text',{x:932,y:850,'font-family':'Liberation Sans,sans-serif','font-size':10,fill:'#222'},gH);
pt.textContent='p.adjust';


const cb=mk('rect',{x:933,y:859,width:17,height:77,fill:'url(#cbar)'},gH);


padjTicks.forEach(v=>{
  const y=936-(v-0.004)/(0.031-0.004)*68-2;
  mk('line',{x1:933,x2:936,y1:y,y2:y,stroke:'#fff','stroke-width':1},gH);
  mk('line',{x1:947,x2:950,y1:y,y2:y,stroke:'#fff','stroke-width':1},gH);
  const tx=mk('text',{x:956,y:y+3.5,'font-family':'Liberation Sans,sans-serif','font-size':10,fill:'#222'},gH);
  tx.textContent=v.toFixed(2);
  
  
});
const ct=mk('text',{x:932,y:961,'font-family':'Liberation Sans,sans-serif','font-size':10,fill:'#222'},gH);
ct.textContent='Counts';


const cy=[973,990,1010,1033];
countLegend.forEach((c,i)=>{
  const ci=mk('circle',{cx:945,cy:cy[i],r:rad(c)-0.5,fill:'none',stroke:'#111','stroke-width':1.3},gH);
  
  
  const tx=mk('text',{x:963,y:cy[i]+3.5,'font-family':'Liberation Sans,sans-serif','font-size':10,fill:'#222'},gH);
  tx.textContent=String(c);
  
  
});
</script>
</body></html>
